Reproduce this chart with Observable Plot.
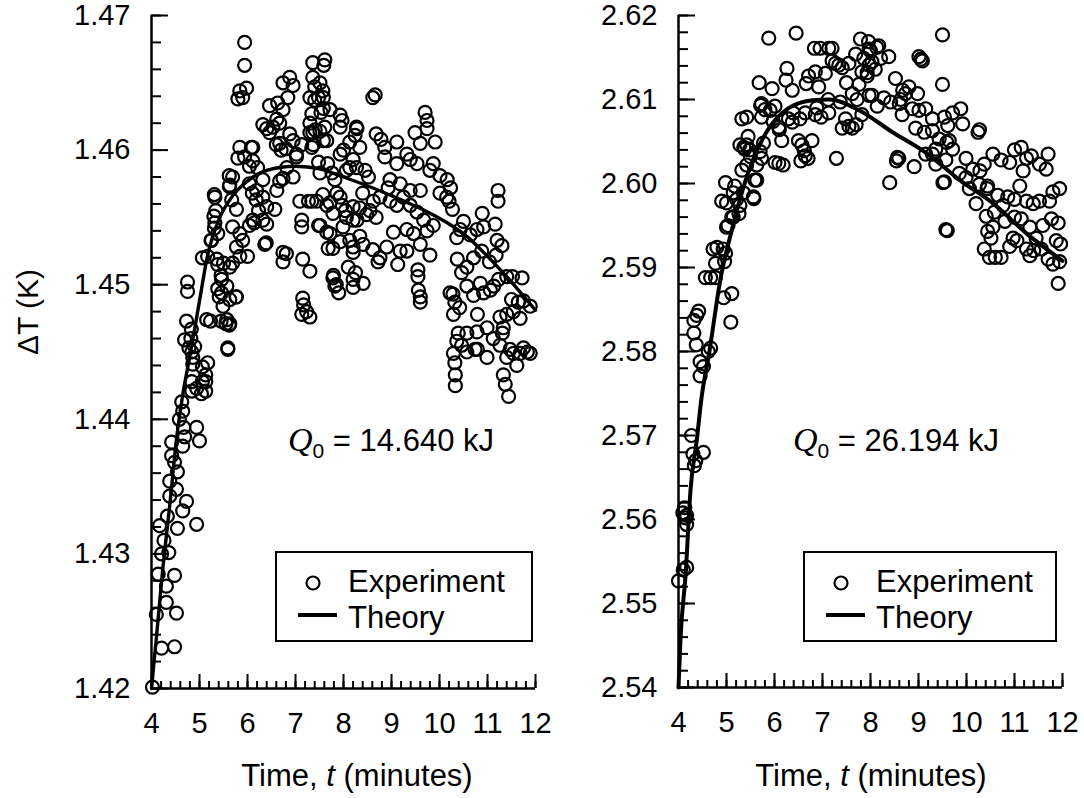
<!DOCTYPE html>
<html><head><meta charset="utf-8">
<script src="https://cdn.jsdelivr.net/npm/d3@7"></script>
<script src="https://cdn.jsdelivr.net/npm/@observablehq/plot@0.6"></script>
<style>
html,body{margin:0;padding:0;background:#fff;}
#wrap{position:relative;width:1084px;height:798px;overflow:hidden;background:#fff;}
#wrap svg{position:absolute;top:0;}
text{white-space:pre;}
</style></head><body><div id="wrap"></div>
<script>
const FONT = '"Liberation Sans", Arial, Helvetica, sans-serif';
const timeTicks = [4,5,6,7,8,9,10,11,12];
const leftYTicks = [1.42,1.43,1.44,1.45,1.46,1.47];
const rightYTicks = [2.54,2.55,2.56,2.57,2.58,2.59,2.60,2.61,2.62];
const legendLabels = ["Experiment","Theory"];
const leftQ0 = "14.640";
const rightQ0 = "26.194";

// Left panel, experiment [t (min), ΔT (K)]
const leftExperiment = [
[4.02,1.4201],[4.21,1.4230],[4.48,1.4231],[4.52,1.4256],[4.31,1.4264],[4.31,1.4276],[4.48,1.4284],[4.21,1.4300],[4.36,1.4301],[4.26,1.4310],
[4.17,1.4321],[4.33,1.4328],[4.54,1.4319],[4.94,1.4322],[4.65,1.4332],[4.73,1.4339],[4.38,1.4343],[4.52,1.4348],[4.38,1.4354],[4.54,1.4361],
[4.48,1.4368],[4.42,1.4373],[4.42,1.4383],[4.65,1.4380],[5.00,1.4384],[4.94,1.4394],[4.69,1.4387],[4.67,1.4394],[4.58,1.4400],[4.65,1.4406],
[4.63,1.4413],[4.84,1.4421],[4.94,1.4423],[5.04,1.4419],[5.13,1.4421],[4.84,1.4428],[5.06,1.4428],[5.13,1.4428],[5.06,1.4439],[5.17,1.4442],
[5.13,1.4433],[4.86,1.4441],[4.84,1.4450],[4.78,1.4453],[4.82,1.4460],[5.59,1.4453],[4.10,1.4255],[4.14,1.4285],
[4.75,1.4502],[4.75,1.4495],[4.73,1.4473],[4.83,1.4467],[4.69,1.4459],[4.90,1.4454],[4.86,1.4446],[5.15,1.4474],[5.23,1.4473],[5.17,1.4521],
[5.36,1.4519],[5.50,1.4516],[5.63,1.4513],[5.69,1.4516],[5.84,1.4521],[6.00,1.4521],[5.25,1.4533],[5.38,1.4538],[5.32,1.4546],[5.30,1.4551],
[5.34,1.4555],[5.46,1.4504],[5.57,1.4499],[5.46,1.4494],[5.63,1.4489],[5.49,1.4484],[5.57,1.4474],[5.63,1.4471],[5.77,1.4491],[5.67,1.4563],
[5.77,1.4556],[5.69,1.4543],[5.84,1.4538],[5.90,1.4533],[5.77,1.4528],[5.32,1.4565],[5.63,1.4574],[5.69,1.4580],[5.84,1.4602],[6.08,1.4602],
[5.94,1.4595],[6.11,1.4592],[5.84,1.4644],[5.98,1.4646],[5.90,1.4639],[5.80,1.4638],[5.94,1.4663],[5.94,1.4680],[6.21,1.4587],[6.32,1.4578],
[6.19,1.4570],[6.32,1.4565],[6.40,1.4558],[6.23,1.4555],[6.57,1.4556],[6.32,1.4548],[6.40,1.4545],[6.11,1.4548],[6.36,1.4530],[6.32,1.4619],
[6.40,1.4616],[6.46,1.4613],[6.53,1.4617],[6.67,1.4620],[6.61,1.4623],[6.46,1.4633],[6.63,1.4635],[6.74,1.4630],[6.74,1.4650],[6.88,1.4654],
[6.95,1.4648],[6.84,1.4639],[6.67,1.4605],[6.80,1.4601],[6.95,1.4607],[6.88,1.4612],[7.02,1.4595],[6.82,1.4587],[6.74,1.4579],[6.95,1.4580],
[6.67,1.4577],[6.61,1.4570],[6.74,1.4524],[6.74,1.4517],[7.09,1.4562],[7.34,1.4562],[7.13,1.4548],[7.13,1.4543],[7.15,1.4519],[7.30,1.4510],
[7.15,1.4490],[7.17,1.4485],[7.23,1.4480],[7.30,1.4476],[7.13,1.4478],[7.34,1.4602],[7.36,1.4613],[7.40,1.4647],[7.51,1.4650],[7.36,1.4654],
[7.57,1.4644],[7.40,1.4637],[7.36,1.4665],[7.61,1.4667],[7.59,1.4663],[7.34,1.4627],[7.53,1.4628],[7.61,1.4617],[7.51,1.4614],[7.65,1.4607],
[7.72,1.4630],[7.93,1.4626],[7.93,1.4617],[8.27,1.4617],[8.24,1.4611],[7.51,1.4583],[7.67,1.4590],[7.76,1.4583],[7.82,1.4578],[7.57,1.4567],
[7.72,1.4561],[7.78,1.4553],[7.93,1.4565],[7.51,1.4544],[7.72,1.4538],[7.68,1.4527],[7.78,1.4527],[7.93,1.4532],[7.78,1.4505],[7.82,1.4499],
[8.20,1.4504],[8.00,1.4600],[8.13,1.4606],[8.20,1.4593],[8.27,1.4587],[8.06,1.4585],[8.20,1.4558],[8.06,1.4550],[8.20,1.4548],[7.99,1.4543],
[8.13,1.4533],[8.20,1.4524],[5.31,1.4567],[5.31,1.4542],[5.24,1.4533],[5.06,1.4520],[5.38,1.4515],[5.45,1.4507],[5.38,1.4497],[5.41,1.4491],
[5.45,1.4473],[5.55,1.4471],[5.62,1.4470],[5.59,1.4452],[5.76,1.4491],[5.62,1.4573],[5.62,1.4581],[5.80,1.4594],[6.11,1.4602],[6.04,1.4588],
[6.04,1.4575],[6.10,1.4568],[6.18,1.4563],[6.04,1.4544],[6.14,1.4546],[6.39,1.4531],[6.60,1.4604],[6.70,1.4600],[6.81,1.4523],[7.02,1.4597],
[7.13,1.4604],[7.27,1.4562],[7.30,1.4639],[7.48,1.4639],[7.58,1.4639],[7.30,1.4620],[7.41,1.4615],[7.30,1.4613],[7.37,1.4604],[7.58,1.4607],
[7.48,1.4591],[7.58,1.4631],[7.44,1.4562],[7.65,1.4559],[7.48,1.4544],[7.65,1.4539],[7.79,1.4507],[7.86,1.4568],[7.97,1.4559],[7.93,1.4597],
[8.61,1.4639],[8.66,1.4641],[7.97,1.4622],[8.28,1.4616],[8.68,1.4612],[8.78,1.4608],[9.11,1.4606],[8.86,1.4602],[8.86,1.4595],[9.74,1.4622],
[9.74,1.4616],[9.70,1.4628],[9.91,1.4606],[9.49,1.4613],[9.60,1.4605],[8.34,1.4602],[8.45,1.4585],[8.52,1.4580],[8.13,1.4587],[9.11,1.4590],
[9.39,1.4593],[9.32,1.4597],[9.53,1.4590],[9.87,1.4590],[10.16,1.4578],[10.23,1.4572],[9.80,1.4585],[10.01,1.4581],[8.97,1.4578],[8.93,1.4572],
[9.18,1.4575],[9.39,1.4570],[9.60,1.4570],[10.01,1.4568],[10.15,1.4565],[10.20,1.4562],[10.27,1.4556],[11.22,1.4570],[11.22,1.4562],[8.40,1.4568],
[8.62,1.4562],[8.76,1.4565],[8.55,1.4555],[8.34,1.4557],[8.48,1.4552],[8.04,1.4555],[8.28,1.4548],[8.68,1.4550],[8.97,1.4562],[9.11,1.4559],
[9.25,1.4565],[9.39,1.4559],[9.53,1.4554],[9.32,1.4541],[9.46,1.4538],[9.67,1.4548],[9.74,1.4540],[9.87,1.4544],[9.60,1.4530],[10.50,1.4547],
[10.89,1.4553],[10.92,1.4543],[11.20,1.4533],[11.16,1.4545],[10.78,1.4541],[10.64,1.4537],[10.43,1.4541],[10.36,1.4535],[8.20,1.4528],[8.41,1.4530],
[8.61,1.4526],[8.72,1.4517],[8.76,1.4520],[8.90,1.4528],[9.04,1.4539],[9.18,1.4525],[9.13,1.4515],[9.32,1.4525],[9.55,1.4511],[9.55,1.4506],
[9.80,1.4522],[8.25,1.4509],[8.10,1.4513],[8.34,1.4536],[7.85,1.4500],[7.90,1.4494],[8.20,1.4498],[8.41,1.4501],[9.60,1.4491],[9.60,1.4487],
[9.56,1.4496],[10.37,1.4519],[10.46,1.4509],[10.57,1.4513],[10.71,1.4520],[10.88,1.4525],[11.04,1.4517],[11.18,1.4522],[11.30,1.4529],[10.22,1.4494],
[10.28,1.4493],[10.32,1.4487],[10.42,1.4483],[10.57,1.4499],[10.71,1.4492],[10.85,1.4501],[10.92,1.4494],[11.06,1.4496],[11.13,1.4499],[11.23,1.4504],
[11.40,1.4506],[11.52,1.4506],[11.72,1.4505],[11.50,1.4489],[11.64,1.4487],[11.75,1.4488],[11.89,1.4484],[11.54,1.4480],[11.68,1.4475],[10.79,1.4478],
[10.99,1.4468],[11.26,1.4476],[11.40,1.4478],[11.33,1.4468],[10.29,1.4478],[10.39,1.4464],[10.57,1.4464],[10.78,1.4465],[11.31,1.4464],[10.36,1.4458],
[10.29,1.4449],[10.32,1.4442],[10.33,1.4433],[10.33,1.4425],[10.74,1.4452],[10.79,1.4452],[10.99,1.4446],[11.40,1.4446],[11.47,1.4452],[11.54,1.4449],
[11.68,1.4449],[11.75,1.4453],[11.83,1.4450],[11.89,1.4449],[11.61,1.4440],[11.33,1.4433],[11.37,1.4426],[11.44,1.4417],[10.57,1.4450],[10.46,1.4455],
[11.12,1.4460],[11.26,1.4455]
];

// Left panel, theory curve
const leftTheory = [
[4.00,1.4200],[4.10,1.4237],[4.23,1.4287],[4.38,1.4336],[4.52,1.4385],[4.65,1.4418],[4.80,1.4447],[5.00,1.4488],[5.17,1.4522],
[5.40,1.4548],[5.69,1.4566],[6.00,1.4577],[6.40,1.4585],[7.00,1.4588],[7.50,1.4586],[8.00,1.4580],[8.60,1.4572],[9.20,1.4563],
[9.70,1.4555],[10.16,1.4546],[10.60,1.4535],[11.00,1.4521],[11.50,1.4502],[12.00,1.4481]
];

// Right panel, experiment [t (min), ΔT (K)]
const rightExperiment = [
[4.00,2.5527],[4.10,2.5540],[4.17,2.5543],[4.15,2.5602],[4.17,2.5605],[4.17,2.5594],[4.13,2.5614],[4.09,2.5608],[4.27,2.5700],[4.30,2.5678],
[4.36,2.5670],[4.33,2.5664],[4.52,2.5680],[4.37,2.5808],[4.62,2.5800],[4.45,2.5788],[4.52,2.5782],[4.45,2.5771],[4.32,2.5837],[4.38,2.5843],
[4.32,2.5822],[4.42,2.5848],[4.67,2.5804],[5.09,2.5835],[5.11,2.5869],[4.94,2.5864],[4.56,2.5888],[4.67,2.5888],[4.77,2.5888],[4.77,2.5905],
[4.72,2.5922],[4.80,2.5924],[4.93,2.5922],[4.98,2.5917],[4.96,2.5907],[5.00,2.5948],[5.03,2.5950],[5.00,2.5977],[5.11,2.5960],[5.14,2.5960],
[5.26,2.5964],[4.98,2.6001],[4.90,2.5979],[5.21,2.5981],[5.14,2.5989],[5.17,2.5997],[5.32,2.6016],[5.28,2.5974],[5.35,2.5989],[5.36,2.6043],
[5.42,2.6046],[5.48,2.6040],[5.50,2.6032],[5.63,2.6004],[5.57,2.5982],[5.56,2.5984],[5.59,2.6004],[5.63,2.6022],[5.32,2.6077],[5.42,2.6079],
[5.45,2.6056],[5.38,2.6041],[5.28,2.6046],[5.42,2.6022],[5.70,2.6038],[5.77,2.6048],[5.73,2.6030],[5.68,2.6120],[5.71,2.6093],[5.80,2.6088],
[5.95,2.6113],[5.88,2.6173],[5.73,2.6079],[5.73,2.6095],[5.91,2.6087],[6.01,2.6092],[6.09,2.6067],[6.09,2.6024],[6.18,2.6022],[5.97,2.6074],
[6.10,2.6064],[6.15,2.6051],[6.01,2.6025],[6.26,2.6137],[6.24,2.6123],[6.37,2.6111],[6.45,2.6179],[6.37,2.6073],[6.29,2.6077],[6.39,2.6084],
[6.53,2.6077],[6.64,2.6084],[6.62,2.6039],[6.70,2.6030],[6.55,2.6027],[6.50,2.6051],[6.57,2.6046],[6.64,2.6033],[6.78,2.6051],[6.66,2.6119],
[6.71,2.6128],[6.83,2.6161],[6.95,2.6161],[7.13,2.6161],[6.85,2.6133],[7.06,2.6131],[6.92,2.6115],[6.88,2.6090],[6.97,2.6079],[6.85,2.6082],
[7.13,2.6084],[7.20,2.6146],[7.27,2.6143],[7.20,2.6161],[7.29,2.6030],[7.34,2.6141],[7.41,2.6138],[7.55,2.6143],[7.37,2.6097],[7.48,2.6077],
[7.41,2.6066],[7.62,2.6066],[7.55,2.6068],[7.70,2.6070],[7.62,2.6107],[7.76,2.6118],[7.79,2.6172],[7.69,2.6154],[7.86,2.6149],[7.97,2.6160],
[7.82,2.6133],[7.93,2.6128],[8.03,2.6145],[7.72,2.6100],[7.97,2.6105],[7.82,2.6082],[7.50,2.6120],[7.12,2.6100],
[7.96,2.6169],[8.17,2.6164],[8.00,2.6158],[8.21,2.6149],[8.38,2.6151],[7.97,2.6141],[8.10,2.6136],[7.93,2.6132],[8.13,2.6162],[9.50,2.6177],
[9.01,2.6151],[9.08,2.6146],[9.05,2.6148],[8.52,2.6125],[8.80,2.6115],[8.73,2.6107],[8.98,2.6107],[9.50,2.6118],[8.67,2.6111],[8.60,2.6095],
[8.03,2.6105],[8.28,2.6102],[8.42,2.6097],[8.63,2.6100],[8.14,2.6092],[8.66,2.6082],[8.87,2.6089],[9.01,2.6087],[9.15,2.6089],[9.29,2.6077],
[9.54,2.6079],[9.71,2.6084],[9.88,2.6089],[9.92,2.6071],[9.61,2.6069],[10.27,2.6064],[10.24,2.6061],[8.94,2.6066],[9.12,2.6061],[9.29,2.6063],
[9.43,2.6053],[9.64,2.6051],[9.71,2.6041],[9.59,2.6049],[9.15,2.6035],[9.29,2.6035],[9.36,2.6041],[9.57,2.6028],[9.36,2.6023],[8.59,2.6030],
[8.91,2.6020],[8.56,2.6031],[8.40,2.6001],[8.54,2.6027],[9.51,2.6001],[9.99,2.6030],[10.13,2.6017],[10.28,2.6015],[10.37,2.6023],[10.55,2.6035],
[10.72,2.6028],[10.90,2.6025],[11.14,2.6043],[11.35,2.6033],[11.70,2.6035],[11.52,2.6023],[11.66,2.6017],[11.00,2.6040],[11.25,2.6030],[9.54,2.6002],
[9.85,2.6012],[9.99,2.6007],[10.06,2.5994],[10.27,2.5999],[10.44,2.5997],[10.43,2.5994],[10.20,2.5976],[10.41,2.5961],[10.58,2.5966],[10.76,2.5974],
[10.65,2.5986],[10.86,2.5984],[11.00,2.5981],[11.11,2.5997],[11.18,2.6015],[11.25,2.5979],[11.39,2.5976],[11.52,2.5979],[11.73,2.5979],[11.94,2.5994],
[11.80,2.5990],[10.44,2.5943],[10.55,2.5948],[10.97,2.5935],[11.14,2.5958],[11.32,2.5948],[11.45,2.5935],[11.59,2.5950],[11.77,2.5958],[11.91,2.5953],
[10.37,2.5922],[10.51,2.5935],[10.48,2.5912],[10.72,2.5912],[10.60,2.5912],[10.90,2.5925],[11.05,2.5932],[11.25,2.5922],[11.32,2.5914],[11.40,2.5920],
[11.56,2.5922],[11.80,2.5904],[11.94,2.5907],[11.87,2.5932],[11.96,2.5928],[11.91,2.5881],[11.70,2.5910],[9.57,2.5945],[9.60,2.5944],[10.80,2.5955],
[11.00,2.5960]
];

// Right panel, theory curve
const rightTheory = [
[4.00,2.5400],[4.04,2.5456],[4.15,2.5536],[4.25,2.5635],[4.38,2.5694],[4.48,2.5745],[4.63,2.5795],[4.88,2.5888],[5.09,2.5940],
[5.40,2.6004],[5.82,2.6060],[6.30,2.6090],[6.80,2.6099],[7.15,2.6100],[7.77,2.6087],[8.46,2.6061],[9.17,2.6036],[9.86,2.6004],
[10.56,2.5976],[11.26,2.5940],[12.00,2.5908]
];

function panel({exp, theory, yDomain, yTicks, width, marginLeft, marginRight, marginBottom, lineWidth}) {
  const [y0, y1] = yDomain;
  const nY = Math.round((y1 - y0) / 0.002);
  const yMinor = d3.range(nY + 1).map(i => +(y0 + i * 0.002).toFixed(4));
  const xMinor = d3.range(41).map(i => +(4 + i * 0.2).toFixed(2));
  const plotW = width - marginLeft - marginRight;
  const plotH = 798 - 15 - marginBottom;
  return Plot.plot({
    width, height: 798, marginTop: 15, marginBottom, marginLeft, marginRight,
    style: {fontFamily: FONT, color: "black", background: "transparent", overflow: "visible"},
    x: {domain: [4, 12]},
    y: {domain: yDomain},
    marks: [
      Plot.axisY(yTicks, {tickSize: 0, tickPadding: 21, tickFormat: d3.format(".2f"), fontSize: 29, label: null}),
      Plot.axisX(timeTicks, {tickSize: 0, tickPadding: 24, fontSize: 29, label: null}),
      // inward tick marks
      Plot.ruleY(yMinor, {stroke: "black", strokeWidth: 2, insetRight: plotW - 10}),
      Plot.ruleY(yTicks, {stroke: "black", strokeWidth: 2, insetRight: plotW - 17}),
      Plot.ruleX(xMinor, {stroke: "black", strokeWidth: 2, insetTop: plotH - 7}),
      Plot.ruleX(timeTicks, {stroke: "black", strokeWidth: 2, insetTop: plotH - 14}),
      Plot.ruleX([4], {stroke: "black", strokeWidth: 2.5}),
      Plot.ruleY([y0], {stroke: "black", strokeWidth: 2.5}),
      Plot.dot(exp, {x: d => d[0], y: d => d[1], r: 6.5, stroke: "black", strokeWidth: 2.2, fill: "none"}),
      Plot.line(theory, {x: d => d[0], y: d => d[1], stroke: "black", strokeWidth: lineWidth, curve: "monotone-x"})
    ]
  });
}

function addXTitle(svg, cx) {
  const t = d3.select(svg).append("text").attr("x", cx).attr("y", 786)
    .attr("text-anchor", "middle").attr("font-size", 31).attr("font-family", FONT).attr("fill", "black");
  t.append("tspan").text("Time, ");
  t.append("tspan").attr("font-style", "italic").text("t");
  t.append("tspan").text(" (minutes)");
}

function addAnnotation(svg, x, y, value) {
  const t = d3.select(svg).append("text").attr("x", x).attr("y", y).attr("text-anchor", "start")
    .attr("font-size", 31).attr("font-family", FONT).attr("fill", "black");
  t.append("tspan").attr("font-style", "italic").attr("font-family", '"Liberation Serif", serif').attr("font-size", 34).text("Q");
  t.append("tspan").attr("font-size", 21).attr("dy", 7).text("0");
  t.append("tspan").attr("dy", -7).text(" = " + value + " kJ");
}

function addLegend(svg, bx, bw) {
  const g = d3.select(svg).append("g").attr("text-anchor", "start");
  g.append("rect").attr("x", bx).attr("y", 552).attr("width", bw).attr("height", 89)
    .attr("fill", "white").attr("stroke", "black").attr("stroke-width", 2);
  g.append("circle").attr("cx", bx + 37).attr("cy", 583).attr("r", 6.5)
    .attr("fill", "none").attr("stroke", "black").attr("stroke-width", 2.2);
  g.append("line").attr("x1", bx + 22).attr("x2", bx + 61).attr("y1", 615).attr("y2", 615)
    .attr("stroke", "black").attr("stroke-width", 4);
  g.append("text").attr("x", bx + 72).attr("y", 592).attr("font-size", 31).attr("font-family", FONT).attr("fill", "black").text(legendLabels[0]);
  g.append("text").attr("x", bx + 72).attr("y", 628).attr("font-size", 31).attr("font-family", FONT).attr("fill", "black").text(legendLabels[1]);
}

const wrap = document.getElementById("wrap");

const left = panel({exp: leftExperiment, theory: leftTheory, yDomain: [1.42, 1.47], yTicks: leftYTicks,
  width: 542, marginLeft: 151, marginRight: 7, marginBottom: 110, lineWidth: 3.4});
left.style.left = "0px";
addXTitle(left, 357);
addAnnotation(left, 288, 451, leftQ0);
addLegend(left, 276, 256);
d3.select(left).append("text").attr("transform", "translate(38,312) rotate(-90)")
  .attr("text-anchor", "middle").attr("font-size", 30).attr("font-family", FONT).attr("fill", "black").text("ΔT (K)");

const right = panel({exp: rightExperiment, theory: rightTheory, yDomain: [2.54, 2.62], yTicks: rightYTicks,
  width: 542, marginLeft: 136, marginRight: 22, marginBottom: 111, lineWidth: 4});
right.style.left = "542px";
addXTitle(right, 329);
addAnnotation(right, 251, 451, rightQ0);
addLegend(right, 262, 252);

wrap.appendChild(right);
wrap.appendChild(left);
</script></body></html>
